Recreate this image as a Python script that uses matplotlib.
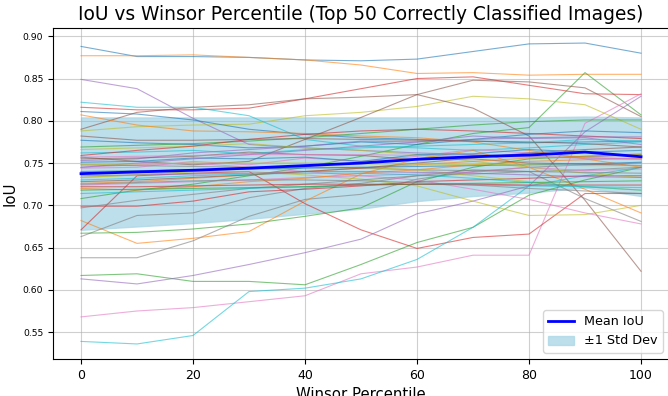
import matplotlib
matplotlib.use("Agg")
import matplotlib.pyplot as plt
import numpy as np

percentiles = [0, 10, 20, 30, 40, 50, 60, 70, 80, 90, 100]

iou_img01 = [0.888, 0.876, 0.876, 0.875, 0.872, 0.871, 0.873, 0.882, 0.891, 0.892, 0.880]
iou_img02 = [0.877, 0.877, 0.878, 0.875, 0.872, 0.866, 0.856, 0.857, 0.854, 0.855, 0.855]
iou_img03 = [0.708, 0.718, 0.725, 0.735, 0.745, 0.758, 0.772, 0.785, 0.792, 0.857, 0.807]
iou_img04 = [0.816, 0.813, 0.813, 0.815, 0.826, 0.838, 0.850, 0.852, 0.842, 0.832, 0.831]
iou_img05 = [0.849, 0.838, 0.803, 0.772, 0.768, 0.765, 0.762, 0.760, 0.758, 0.756, 0.755]
iou_img06 = [0.790, 0.810, 0.816, 0.819, 0.826, 0.828, 0.831, 0.848, 0.846, 0.839, 0.805]
iou_img07 = [0.568, 0.575, 0.579, 0.586, 0.593, 0.619, 0.627, 0.641, 0.641, 0.797, 0.832]
iou_img08 = [0.638, 0.638, 0.658, 0.687, 0.707, 0.713, 0.731, 0.740, 0.745, 0.748, 0.750]
iou_img09 = [0.788, 0.793, 0.795, 0.796, 0.806, 0.810, 0.817, 0.829, 0.826, 0.819, 0.790]
iou_img10 = [0.822, 0.816, 0.816, 0.806, 0.778, 0.770, 0.768, 0.765, 0.768, 0.772, 0.775]
iou_img11 = [0.811, 0.808, 0.801, 0.790, 0.784, 0.780, 0.778, 0.776, 0.774, 0.775, 0.776]
iou_img12 = [0.682, 0.655, 0.661, 0.669, 0.705, 0.737, 0.755, 0.765, 0.745, 0.719, 0.691]
iou_img13 = [0.617, 0.619, 0.610, 0.610, 0.606, 0.630, 0.656, 0.674, 0.712, 0.730, 0.745]
iou_img14 = [0.671, 0.735, 0.738, 0.740, 0.702, 0.671, 0.649, 0.662, 0.666, 0.714, 0.714]
iou_img15 = [0.613, 0.607, 0.617, 0.630, 0.644, 0.660, 0.690, 0.705, 0.723, 0.787, 0.829]
iou_img16 = [0.757, 0.752, 0.748, 0.752, 0.778, 0.804, 0.831, 0.815, 0.782, 0.706, 0.622]
iou_img17 = [0.744, 0.745, 0.752, 0.748, 0.756, 0.752, 0.758, 0.766, 0.762, 0.757, 0.760]
iou_img18 = [0.663, 0.688, 0.691, 0.709, 0.720, 0.726, 0.735, 0.742, 0.740, 0.708, 0.681]
iou_img19 = [0.733, 0.736, 0.740, 0.740, 0.736, 0.731, 0.723, 0.705, 0.688, 0.689, 0.700]
iou_img20 = [0.539, 0.536, 0.546, 0.598, 0.602, 0.613, 0.636, 0.674, 0.723, 0.735, 0.745]
iou_img21 = [0.777, 0.774, 0.772, 0.768, 0.770, 0.775, 0.772, 0.778, 0.784, 0.788, 0.786]
iou_img22 = [0.807, 0.795, 0.788, 0.787, 0.785, 0.782, 0.780, 0.775, 0.765, 0.755, 0.745]
iou_img23 = [0.667, 0.668, 0.672, 0.678, 0.687, 0.697, 0.728, 0.745, 0.755, 0.758, 0.760]
iou_img24 = [0.699, 0.699, 0.705, 0.716, 0.719, 0.723, 0.728, 0.730, 0.732, 0.735, 0.735]
iou_img25 = [0.753, 0.755, 0.762, 0.766, 0.770, 0.776, 0.775, 0.782, 0.779, 0.780, 0.772]
iou_img26 = [0.755, 0.756, 0.758, 0.763, 0.760, 0.759, 0.754, 0.755, 0.750, 0.749, 0.747]
iou_img27 = [0.745, 0.748, 0.750, 0.745, 0.740, 0.735, 0.730, 0.719, 0.707, 0.691, 0.678]
iou_img28 = [0.697, 0.706, 0.713, 0.720, 0.725, 0.730, 0.735, 0.737, 0.740, 0.742, 0.745]
iou_img29 = [0.766, 0.768, 0.770, 0.773, 0.768, 0.765, 0.760, 0.752, 0.745, 0.738, 0.733]
iou_img30 = [0.762, 0.763, 0.765, 0.761, 0.766, 0.768, 0.770, 0.772, 0.774, 0.778, 0.776]
iou_img31 = [0.751, 0.752, 0.756, 0.755, 0.757, 0.752, 0.760, 0.761, 0.766, 0.763, 0.765]
iou_img32 = [0.726, 0.728, 0.732, 0.736, 0.740, 0.744, 0.748, 0.752, 0.756, 0.758, 0.761]
iou_img33 = [0.769, 0.771, 0.773, 0.776, 0.780, 0.785, 0.790, 0.795, 0.799, 0.801, 0.801]
iou_img34 = [0.759, 0.765, 0.770, 0.778, 0.784, 0.788, 0.790, 0.788, 0.785, 0.782, 0.779]
iou_img35 = [0.745, 0.750, 0.755, 0.760, 0.765, 0.770, 0.775, 0.778, 0.780, 0.781, 0.781]
iou_img36 = [0.782, 0.777, 0.777, 0.778, 0.779, 0.778, 0.777, 0.776, 0.775, 0.773, 0.769]
iou_img37 = [0.724, 0.726, 0.728, 0.730, 0.733, 0.735, 0.737, 0.739, 0.745, 0.741, 0.743]
iou_img38 = [0.748, 0.747, 0.746, 0.745, 0.745, 0.744, 0.742, 0.741, 0.740, 0.739, 0.738]
iou_img39 = [0.733, 0.736, 0.740, 0.743, 0.745, 0.745, 0.742, 0.735, 0.728, 0.722, 0.718]
iou_img40 = [0.714, 0.716, 0.718, 0.720, 0.722, 0.724, 0.725, 0.724, 0.723, 0.722, 0.721]
iou_img41 = [0.740, 0.741, 0.742, 0.743, 0.744, 0.745, 0.746, 0.747, 0.748, 0.749, 0.751]
iou_img42 = [0.720, 0.718, 0.722, 0.728, 0.732, 0.738, 0.742, 0.748, 0.752, 0.754, 0.755]
iou_img43 = [0.718, 0.719, 0.720, 0.721, 0.722, 0.724, 0.725, 0.726, 0.727, 0.728, 0.729]
iou_img44 = [0.722, 0.722, 0.723, 0.724, 0.725, 0.725, 0.725, 0.725, 0.724, 0.724, 0.724]
iou_img45 = [0.735, 0.736, 0.737, 0.738, 0.740, 0.740, 0.739, 0.738, 0.736, 0.734, 0.733]
iou_img46 = [0.728, 0.730, 0.733, 0.736, 0.740, 0.744, 0.750, 0.756, 0.762, 0.766, 0.769]
iou_img47 = [0.757, 0.758, 0.759, 0.760, 0.760, 0.760, 0.759, 0.758, 0.757, 0.756, 0.755]
iou_img48 = [0.725, 0.727, 0.729, 0.730, 0.730, 0.729, 0.727, 0.724, 0.720, 0.717, 0.714]
iou_img49 = [0.748, 0.749, 0.750, 0.750, 0.750, 0.749, 0.749, 0.748, 0.748, 0.747, 0.747]
iou_img50 = [0.730, 0.732, 0.735, 0.737, 0.738, 0.738, 0.736, 0.732, 0.727, 0.722, 0.718]

mean_iou = [0.7375, 0.7395, 0.7415, 0.744, 0.747, 0.750, 0.7545, 0.7575, 0.7595, 0.763, 0.7575]
std_iou = [0.0665, 0.0645, 0.0625, 0.060, 0.057, 0.054, 0.0495, 0.0465, 0.0445, 0.042, 0.0465]

curves = [iou_img01, iou_img02, iou_img03, iou_img04, iou_img05, iou_img06, iou_img07,
          iou_img08, iou_img09, iou_img10, iou_img11, iou_img12, iou_img13, iou_img14,
          iou_img15, iou_img16, iou_img17, iou_img18, iou_img19, iou_img20, iou_img21,
          iou_img22, iou_img23, iou_img24, iou_img25, iou_img26, iou_img27, iou_img28,
          iou_img29, iou_img30, iou_img31, iou_img32, iou_img33, iou_img34, iou_img35,
          iou_img36, iou_img37, iou_img38, iou_img39, iou_img40, iou_img41, iou_img42,
          iou_img43, iou_img44, iou_img45, iou_img46, iou_img47, iou_img48, iou_img49,
          iou_img50]

fig = plt.figure(figsize=(6.68, 3.96), dpi=100)
ax = fig.add_axes([53 / 668, 37 / 396, 616 / 668, 331 / 396])

m = np.array(mean_iou)
s = np.array(std_iou)
band = ax.fill_between(percentiles, m - s, m + s, color="lightblue", alpha=0.8,
                       label="±1 Std Dev", zorder=1)

for c in curves:
    ax.plot(percentiles, c, linewidth=0.8, alpha=0.6, zorder=2)

mean_line, = ax.plot(percentiles, m, color="blue", linewidth=2, label="Mean IoU", zorder=3)

ax.set_title("IoU vs Winsor Percentile (Top 50 Correctly Classified Images)", fontsize=13.4)
ax.set_xlabel("Winsor Percentile", fontsize=10.7)
ax.set_ylabel("IoU", fontsize=10.7)
ax.tick_params(axis="x", labelsize=9)
ax.tick_params(axis="y", labelsize=6.7)
ax.grid(True, alpha=0.6)
ax.legend(handles=[mean_line, band], loc="lower right", fontsize=9.2)

fig.savefig("out.png", dpi=100)
